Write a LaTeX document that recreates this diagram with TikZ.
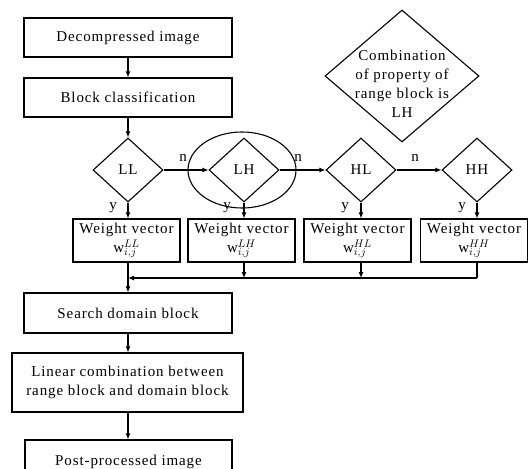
\documentclass[tikz,border=0pt]{standalone}
\usepackage{fontspec}
\setmainfont[LetterSpace=6]{Liberation Serif}
\usetikzlibrary{shapes.geometric,arrows.meta}
\begin{document}
\begin{tikzpicture}[x=1pt,y=-1pt,
  every node/.style={font=\fontsize{15}{19}\selectfont},
  box/.style={draw,line width=1.1pt,inner sep=0pt,align=center},
  wide/.style={box,minimum width=208,minimum height=39},
  wbox/.style={box,minimum width=107,minimum height=43,font=\fontsize{15}{19}\selectfont},
  dia/.style={draw,diamond,line width=1.1pt,inner sep=0pt,minimum width=70,minimum height=64},
  lbl/.style={inner sep=0pt},
  arr/.style={line width=1.1pt,-{Latex[length=6pt,width=5pt]}},
  ln/.style={line width=1.1pt}]
\useasboundingbox (0,0) rectangle (529,468);
% main column
\node[wide] (dec) at (128,37.5) {Decompressed image};
\node[wide] (cls) at (128,97.5) {Block classification};
% diamonds
\node[dia] (LL) at (128,170) {LL};
\node[dia] (LH) at (244,170) {LH};
\node[dia] (HL) at (361,170) {HL};
\node[dia] (HH) at (477,170) {HH};
\node[draw,ellipse,line width=1.1pt,minimum width=108,minimum height=76,inner sep=0pt] (ell) at (242,170) {};
% condition diamond
\node[draw,diamond,line width=1.1pt,minimum width=154,minimum height=132,inner sep=0pt] (cond) at (402,76) {};
\node[align=center,inner sep=0pt] (condtxt) at (402,84) {Combination\\of property of\\range block is\\LH};
% weight boxes
\node[wbox] (wLL) at (126.5,240.5) {Weight vector\\$\mathrm{w}^{LL}_{i,j}$};
\node[wbox] (wLH) at (241.5,240.5) {Weight vector\\$\mathrm{w}^{LH}_{i,j}$};
\node[wbox] (wHL) at (357.5,240.5) {Weight vector\\$\mathrm{w}^{HL}_{i,j}$};
\node[wbox] (wHH) at (474,240.5) {Weight vector\\$\mathrm{w}^{HH}_{i,j}$};
% lower column
\node[wide,minimum height=40] (srch) at (128,313) {Search domain block};
\node[box,minimum width=231,minimum height=59] (lin) at (127.5,382.5) {Linear combination between\\range block and domain block};
\node[box,minimum width=207,minimum height=44] (post) at (128.5,462) {Post-processed image};
% labels
\node[lbl] (n1) at (183,158) {n};
\node[lbl] (n2) at (298,158) {n};
\node[lbl] (n3) at (415,158) {n};
\node[lbl] (y1) at (113,208) {y};
\node[lbl] (y2) at (227,208) {y};
\node[lbl] (y3) at (345,208) {y};
\node[lbl] (y4) at (462,208) {y};
% coordinates
\coordinate (m) at (128,278);
% connectors
\draw[arr] (dec) -- (cls);
\draw[arr] (cls.south -| LL.north) -- (LL.north);
\draw[arr] (LL.east) -- (LH.west);
\draw[arr] (LH.east) -- (HL.west);
\draw[arr] (HL.east) -- (HH.west);
\draw[arr] (LL.south) -- (LL.south |- wLL.north);
\draw[arr] (LH.south) -- (LH.south |- wLH.north);
\draw[arr] (HL.south) -- (HL.south |- wHL.north);
\draw[arr] (HH.south) -- (HH.south |- wHH.north);
\draw[ln] (wHH.south -| HH.south) -- (HH.south |- m);
\draw[arr] (HH.south |- m) -- (m);
\draw[arr] (wLH.south -| LH.south) -- (LH.south |- m);
\draw[arr] (wHL.south -| HL.south) -- (HL.south |- m);
\draw[arr] (wLL.south -| LL.south) -- (LL.south |- srch.north);
\draw[arr] (srch.south -| LL.south) -- (LL.south |- lin.north);
\draw[arr] (lin.south -| LL.south) -- (LL.south |- post.north);
\end{tikzpicture}
\end{document}
